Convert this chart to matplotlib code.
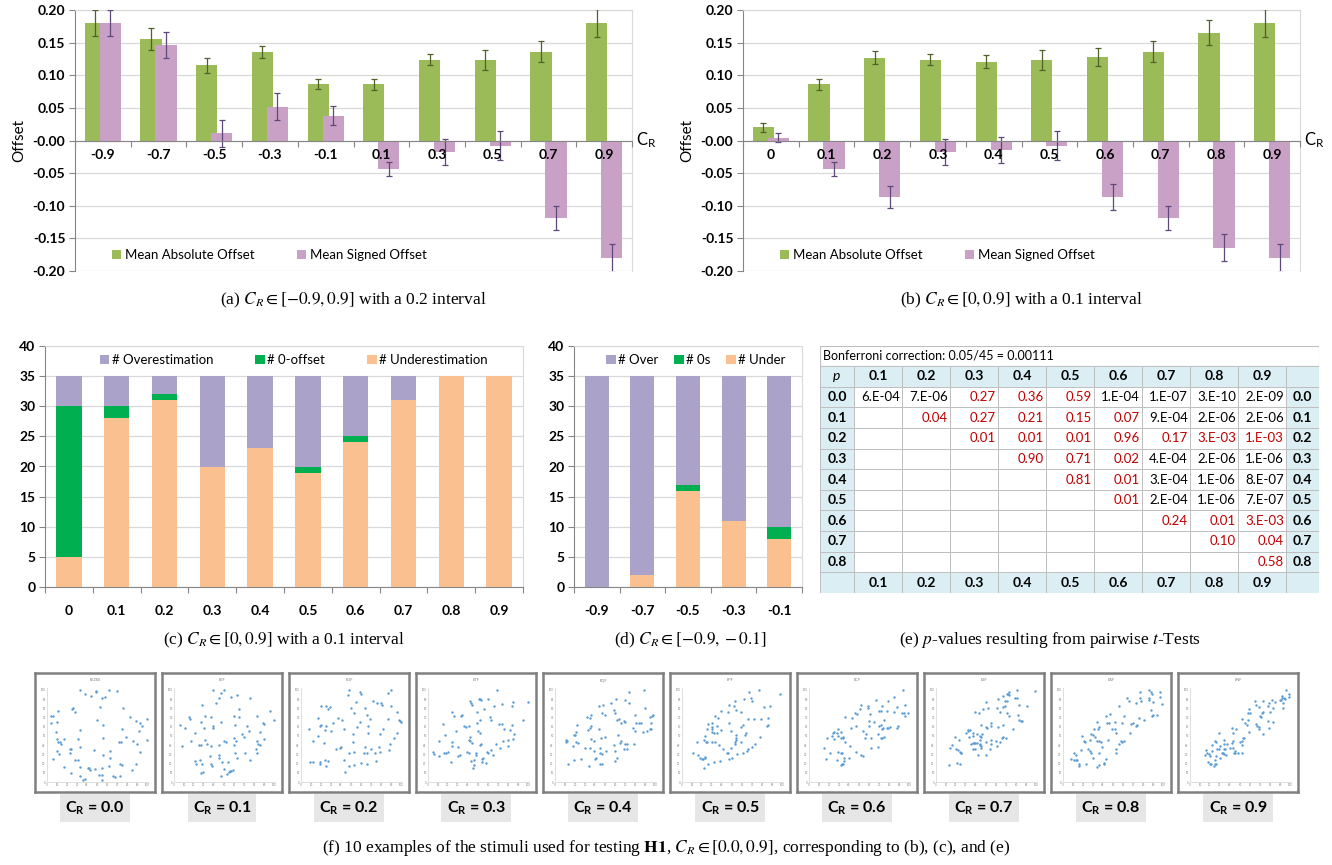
import matplotlib
matplotlib.use("Agg")
import matplotlib.pyplot as plt
from matplotlib.patches import Patch, Rectangle
import numpy as np

plt.rcParams['font.family'] = ['Lato', 'DejaVu Sans']
plt.rcParams['mathtext.fontset'] = 'custom'
plt.rcParams['mathtext.rm'] = 'Lato'
plt.rcParams['mathtext.it'] = 'Lato:italic'
plt.rcParams['mathtext.bf'] = 'Lato:bold'

# ---- data: (a) and (b) offsets
CATS_A = ['-0.9', '-0.7', '-0.5', '-0.3', '-0.1', '0.1', '0.3', '0.5', '0.7', '0.9']
ABS_A = [0.180, 0.156, 0.115, 0.136, 0.087, 0.086, 0.124, 0.123, 0.136, 0.180]
ABS_A_ERR = [0.020, 0.017, 0.011, 0.009, 0.008, 0.008, 0.009, 0.015, 0.016, 0.022]
SGN_A = [0.180, 0.146, 0.011, 0.052, 0.038, -0.044, -0.018, -0.008, -0.119, -0.180]
SGN_A_ERR = [0.020, 0.020, 0.021, 0.021, 0.015, 0.011, 0.020, 0.022, 0.018, 0.022]

CATS_B = ['0', '0.1', '0.2', '0.3', '0.4', '0.5', '0.6', '0.7', '0.8', '0.9']
ABS_B = [0.020, 0.086, 0.127, 0.124, 0.121, 0.123, 0.128, 0.136, 0.165, 0.180]
ABS_B_ERR = [0.007, 0.008, 0.010, 0.009, 0.010, 0.015, 0.014, 0.016, 0.019, 0.022]
SGN_B = [0.004, -0.044, -0.086, -0.018, -0.015, -0.008, -0.087, -0.119, -0.164, -0.180]
SGN_B_ERR = [0.007, 0.011, 0.017, 0.020, 0.020, 0.022, 0.020, 0.018, 0.020, 0.022]

# ---- data: (c) and (d) counts
CATS_C = CATS_B
UNDER_C = [5, 28, 31, 20, 23, 19, 24, 31, 35, 35]
ZERO_C = [25, 2, 1, 0, 0, 1, 1, 0, 0, 0]
OVER_C = [5, 5, 3, 15, 12, 15, 10, 4, 0, 0]

CATS_D = ['-0.9', '-0.7', '-0.5', '-0.3', '-0.1']
UNDER_D = [0, 2, 16, 11, 8]
ZERO_D = [0, 0, 1, 0, 2]
OVER_D = [35, 33, 18, 24, 25]

# ---- data: (e) p-value table
BONF = 'Bonferroni correction: 0.05/45 = 0.00111'
TBL_COLS = ['0.1', '0.2', '0.3', '0.4', '0.5', '0.6', '0.7', '0.8', '0.9']
TBL_ROWS = ['0.0', '0.1', '0.2', '0.3', '0.4', '0.5', '0.6', '0.7', '0.8']
P_VALUES = [
    ['6.E-04', '7.E-06', '0.27', '0.36', '0.59', '1.E-04', '1.E-07', '3.E-10', '2.E-09'],
    ['', '0.04', '0.27', '0.21', '0.15', '0.07', '9.E-04', '2.E-06', '2.E-06'],
    ['', '', '0.01', '0.01', '0.01', '0.96', '0.17', '3.E-03', '1.E-03'],
    ['', '', '', '0.90', '0.71', '0.02', '4.E-04', '2.E-06', '1.E-06'],
    ['', '', '', '', '0.81', '0.01', '3.E-04', '1.E-06', '8.E-07'],
    ['', '', '', '', '', '0.01', '2.E-04', '1.E-06', '7.E-07'],
    ['', '', '', '', '', '', '0.24', '0.01', '3.E-03'],
    ['', '', '', '', '', '', '', '0.10', '0.04'],
    ['', '', '', '', '', '', '', '', '0.58'],
]

# ---- data: (f) stimuli thumbnails (x, y)
STIM_00 = [(33,100),(38,95),(44,93),(49,98),(49,99),(55,91),(58,92),(62,100),(70,99),(76,80),(25,79),(26,80),(28,76),(11,77),(4,72),(6,72),(4,64),(10,65),(53,81),(50,67),(56,62),(83,71),(89,66),(93,64),(95,61),(100,68),(75,57),(92,55),(33,56),(9,54),(10,47),(17,47),(31,47),(56,48),(79,49),(11,43),(13,43),(14,41),(33,38),(72,43),(74,43),(86,44),(90,41),(100,46),(23,36),(24,36),(47,35),(63,34),(10,34),(23,31),(12,30),(56,29),(63,26),(93,33),(6,25),(28,24),(31,24),(17,16),(33,16),(41,15),(42,15),(43,13),(48,14),(55,15),(62,17),(73,20),(75,18),(89,19),(85,13),(24,10),(33,6),(36,2),(38,3),(52,8),(55,8),(55,2),(66,7),(68,5),(73,7)]
STIM_01 = [(39,100),(47,97),(50,100),(45,91),(42,86),(57,92),(63,94),(76,91),(28,84),(65,79),(96,77),(6,62),(11,59),(15,71),(16,68),(31,72),(37,71),(60,72),(65,71),(83,72),(100,67),(27,65),(30,59),(39,61),(39,59),(47,65),(61,62),(73,61),(90,63),(89,64),(21,53),(68,52),(70,49),(75,55),(86,54),(60,48),(31,46),(17,45),(62,45),(90,47),(83,44),(84,41),(86,40),(8,39),(25,40),(27,40),(33,41),(37,39),(45,40),(50,44),(52,43),(60,40),(82,36),(83,31),(61,32),(71,32),(36,28),(45,29),(45,26),(63,26),(76,24),(21,23),(22,19),(26,24),(28,20),(37,19),(38,17),(48,22),(54,22),(50,14),(56,12),(57,12),(59,13),(55,11),(29,11),(27,10),(53,9),(47,6)]
STIM_02 = [(48,100),(47,94),(59,98),(60,95),(90,100),(87,97),(55,87),(72,88),(76,86),(80,86),(81,84),(20,83),(25,82),(27,79),(29,81),(50,80),(64,80),(90,82),(96,76),(53,75),(66,73),(17,69),(37,69),(41,67),(69,68),(87,68),(98,67),(99,66),(100,65),(32,64),(20,62),(19,61),(25,61),(59,65),(56,60),(67,61),(8,57),(24,56),(30,55),(43,57),(82,58),(17,50),(52,52),(67,53),(79,52),(96,53),(12,45),(93,48),(23,42),(52,43),(89,41),(35,36),(39,37),(40,38),(64,38),(70,36),(78,38),(88,35),(48,31),(53,33),(63,32),(66,31),(74,31),(79,33),(9,22),(12,22),(19,22),(19,20),(24,24),(27,23),(25,17),(43,24),(48,17),(53,18),(60,21),(66,19),(75,23),(44,11)]
STIM_03 = [(69,100),(42,88),(43,86),(44,84),(51,90),(52,90),(53,89),(60,90),(74,85),(85,87),(84,82),(100,87),(56,79),(49,76),(24,76),(26,72),(33,72),(34,73),(66,83),(62,71),(63,67),(52,67),(49,64),(15,63),(71,63),(74,63),(36,61),(38,60),(41,61),(76,58),(84,62),(95,67),(82,56),(28,55),(50,55),(52,53),(17,51),(86,52),(42,49),(41,46),(42,45),(44,42),(75,45),(80,46),(85,47),(11,45),(24,39),(24,43),(30,38),(52,40),(53,41),(68,41),(72,37),(80,39),(39,33),(41,32),(48,32),(59,33),(60,32),(63,35),(5,33),(6,30),(11,28),(16,32),(18,32),(20,33),(30,28),(32,29),(48,29),(65,29),(54,25),(55,26),(43,23),(46,24),(23,22),(54,22),(58,21),(46,18),(45,15)]
STIM_04 = [(89,100),(74,98),(61,90),(70,89),(74,86),(56,86),(48,84),(44,82),(90,80),(59,78),(60,75),(47,75),(50,73),(80,73),(36,73),(32,71),(35,69),(98,73),(97,72),(95,71),(64,68),(62,67),(69,66),(70,65),(66,64),(96,64),(81,64),(84,64),(86,64),(22,62),(36,61),(35,59),(78,59),(95,58),(96,57),(44,57),(33,56),(80,55),(88,54),(92,55),(21,54),(19,51),(20,51),(63,51),(50,49),(46,48),(11,46),(12,45),(36,47),(39,45),(21,43),(23,42),(11,43),(66,45),(65,42),(59,40),(70,41),(72,41),(79,41),(18,39),(30,37),(35,37),(45,37),(69,36),(72,36),(39,34),(45,32),(47,30),(51,34),(60,34),(26,25),(41,26),(40,25),(19,24),(62,26),(60,23),(45,20),(47,20),(13,19),(34,17)]
STIM_05 = [(77,100),(67,98),(98,96),(62,90),(69,91),(70,88),(53,88),(47,84),(52,83),(88,83),(82,81),(54,78),(59,76),(39,77),(46,76),(33,72),(36,69),(72,68),(79,68),(66,68),(47,64),(26,63),(30,64),(30,60),(30,57),(25,57),(35,61),(39,56),(86,69),(86,62),(85,61),(61,62),(59,60),(49,55),(64,53),(63,51),(78,49),(23,50),(30,54),(32,53),(54,51),(54,48),(54,46),(22,46),(35,53),(15,43),(24,43),(25,43),(30,43),(33,43),(37,40),(53,43),(53,41),(59,43),(73,41),(70,38),(41,36),(49,37),(66,36),(65,34),(45,32),(46,31),(61,32),(55,30),(11,31),(16,29),(18,26),(20,25),(21,25),(23,27),(23,26),(26,19),(32,22),(38,23),(47,25),(50,26),(22,15)]
STIM_06 = [(94,100),(85,92),(67,89),(79,88),(96,84),(52,84),(59,82),(59,80),(73,82),(88,81),(51,79),(46,75),(48,74),(61,74),(70,77),(72,77),(78,77),(85,76),(99,75),(93,75),(95,75),(96,72),(36,70),(43,69),(65,65),(60,66),(75,67),(89,61),(88,59),(47,61),(42,59),(60,61),(70,61),(72,62),(73,58),(74,59),(78,59),(79,59),(81,60),(54,55),(29,57),(28,53),(25,54),(24,53),(32,54),(57,52),(69,52),(23,50),(25,47),(18,48),(29,50),(32,48),(34,49),(34,48),(56,48),(62,48),(72,48),(73,48),(75,49),(36,43),(15,37),(41,39),(62,37),(69,38),(21,32),(29,33),(32,31),(33,32),(28,24),(35,26),(35,23),(34,20),(33,19),(32,18),(40,26),(47,33),(52,29),(54,28),(17,25)]
STIM_07 = [(81,100),(73,98),(72,96),(71,95),(73,94),(99,99),(67,93),(79,91),(81,91),(62,90),(69,88),(71,88),(50,87),(83,84),(91,83),(69,82),(67,81),(61,80),(52,80),(47,79),(39,76),(64,76),(43,75),(71,75),(73,72),(82,73),(83,67),(85,66),(86,66),(55,64),(55,61),(45,62),(62,60),(67,62),(50,60),(77,58),(51,59),(32,56),(32,55),(34,56),(30,53),(37,53),(41,52),(46,52),(19,49),(33,49),(37,50),(44,50),(45,49),(23,46),(44,46),(55,46),(60,45),(66,48),(67,49),(70,48),(37,42),(38,42),(39,42),(35,41),(16,40),(41,42),(44,41),(44,40),(45,39),(50,43),(55,41),(64,43),(37,36),(39,36),(45,37),(14,37),(20,36),(22,35),(24,33),(25,32),(25,31),(61,39),(54,36),(42,29),(50,29),(21,21),(24,20),(13,18)]
STIM_08 = [(86,100),(77,98),(88,98),(97,98),(89,95),(86,91),(86,89),(77,91),(97,92),(64,91),(66,88),(78,88),(73,86),(90,87),(99,85),(56,82),(88,78),(89,72),(90,73),(94,73),(47,74),(43,72),(61,72),(76,69),(81,67),(52,65),(34,65),(44,64),(46,64),(59,64),(68,63),(70,64),(74,62),(73,61),(49,58),(36,60),(35,58),(31,58),(52,58),(53,53),(28,52),(30,51),(32,49),(19,50),(67,53),(27,46),(45,46),(56,41),(58,45),(59,43),(61,44),(34,44),(36,44),(38,43),(21,44),(22,43),(39,38),(18,35),(25,36),(27,34),(53,36),(53,32),(28,31),(36,31),(11,32),(13,29),(30,26),(8,25),(11,24),(13,24),(14,24),(43,25),(16,20),(16,17),(23,20),(41,21),(41,20),(36,18),(34,16)]
STIM_09 = [(96,100),(99,95),(99,92),(92,93),(92,91),(94,91),(95,90),(91,89),(90,89),(93,86),(85,87),(82,89),(65,88),(73,88),(79,86),(66,84),(78,82),(69,81),(93,80),(83,80),(80,76),(72,75),(59,79),(60,75),(58,75),(70,72),(71,70),(73,76),(58,67),(52,68),(78,66),(83,65),(66,63),(67,61),(69,60),(55,64),(57,62),(69,58),(79,59),(42,59),(46,57),(43,53),(59,54),(29,53),(73,52),(53,48),(54,48),(34,46),(25,45),(26,43),(43,44),(42,42),(50,43),(52,44),(22,40),(34,41),(30,39),(37,41),(40,37),(52,40),(27,36),(29,36),(34,36),(35,36),(43,37),(45,34),(16,35),(17,31),(15,29),(19,30),(22,34),(32,32),(36,29),(33,31),(34,30),(44,32),(45,32),(48,32),(52,32),(26,28),(30,26),(20,28),(25,24),(18,22),(20,20),(21,19),(25,19),(26,20),(24,17)]
STIMULI = [STIM_00, STIM_01, STIM_02, STIM_03, STIM_04, STIM_05, STIM_06, STIM_07, STIM_08, STIM_09]
STIM_TITLES = ['EEZEE', 'EEF', 'EDF', 'ETF', 'EQF', 'EPF', 'ECF', 'ESF', 'EAF', 'ENF']
STIM_CR = ['0.0', '0.1', '0.2', '0.3', '0.4', '0.5', '0.6', '0.7', '0.8', '0.9']

# ---- colours
GREEN = '#9bbb59'
GREEN_ERR = '#4f6228'
PINK = '#c9a0c6'
PINK_ERR = '#5f497a'
OVER = '#aaa2c8'
ZERO = '#00b050'
UNDER = '#fac090'
GRID = '#d9d9d9'
AXIS = '#868686'
BLUE_HDR = '#daeef3'
RED = '#c00000'
SERIF = ['Liberation Serif', 'DejaVu Serif']

W, H = 1332, 865
fig = plt.figure(figsize=(W / 100, H / 100), dpi=100)


def box(l, t, r, b):
    # pixel box -> figure fraction
    return [l / W, 1 - b / H, (r - l) / W, (b - t) / H]


def caption(x, y, s, size=12.5):
    fig.text(x / W, 1 - y / H, s, ha='center', va='center', fontsize=size,
             family=SERIF, math_fontfamily='stix')


def offset_panel(rect, cats, absm, abse, sgnm, sgne):
    ax = fig.add_axes(box(*rect))
    x = np.arange(len(cats))
    ax.bar(x - 0.135, absm, 0.38, color=GREEN, zorder=2)
    ax.errorbar(x - 0.135, absm, yerr=abse, fmt='none', ecolor=GREEN_ERR,
                elinewidth=0.9, capsize=2.5, capthick=0.9, zorder=3)
    ax.bar(x + 0.135, sgnm, 0.38, color=PINK, zorder=4)
    ax.errorbar(x + 0.135, sgnm, yerr=sgne, fmt='none', ecolor=PINK_ERR,
                elinewidth=0.9, capsize=2.5, capthick=0.9, zorder=5)
    ax.set_xlim(-0.5, len(cats) - 0.5)
    ax.set_ylim(-0.2, 0.2)
    yt = np.arange(-0.2, 0.2001, 0.05)
    ax.set_yticks(yt)
    ax.set_yticklabels(['%.2f' % v for v in yt], fontweight='bold', fontsize=10)
    ax.grid(axis='y', color=GRID, lw=0.9, zorder=0)
    ax.set_axisbelow(True)
    ax.spines['bottom'].set_position(('data', 0))
    ax.spines['bottom'].set_zorder(6)
    for s in ['bottom', 'left']:
        ax.spines[s].set_color(AXIS)
    for s in ['top', 'right']:
        ax.spines[s].set_color(GRID)
    ax.set_xticks(np.arange(-0.5, len(cats)))
    ax.set_xticklabels([])
    ax.set_xticks(x, minor=True)
    ax.set_xticklabels(cats, minor=True, fontweight='bold', fontsize=10)
    ax.tick_params(axis='x', which='major', length=4, color=AXIS)
    ax.tick_params(axis='x', which='minor', length=0, pad=6)
    ax.tick_params(axis='y', length=4, color=AXIS, pad=3)
    # category labels sit on top of the bars, as in the Excel chart
    ax.xaxis.set_zorder(7)
    ax.set_ylabel('Offset', fontsize=11)
    ax.yaxis.set_label_coords(-0.088, 0.5)
    ax.text(1.008, 0.5, r'$\mathrm{C_R}$', transform=ax.transAxes, fontsize=12,
            va='center', ha='left')
    ax.legend([Patch(facecolor=GREEN), Patch(facecolor=PINK)],
              ['Mean Absolute Offset', 'Mean Signed Offset'],
              loc='center left', bbox_to_anchor=(0.045, 0.062), ncol=2,
              frameon=False, handlelength=0.7, handleheight=0.7,
              handletextpad=0.3, columnspacing=3.2, fontsize=9.5)
    return ax


def count_panel(rect, cats, under, zero, over, names, lx, colsp):
    ax = fig.add_axes(box(*rect))
    x = np.arange(len(cats))
    ax.bar(x, under, 0.53, color=UNDER, zorder=2)
    ax.bar(x, zero, 0.53, bottom=under, color=ZERO, zorder=2)
    ax.bar(x, over, 0.53, bottom=np.add(under, zero), color=OVER, zorder=2)
    ax.set_xlim(-0.5, len(cats) - 0.5)
    ax.set_ylim(0, 40)
    ax.set_yticks(np.arange(0, 41, 5))
    ax.set_yticklabels([str(v) for v in range(0, 41, 5)], fontweight='bold', fontsize=10)
    ax.grid(axis='y', color=GRID, lw=0.9, zorder=0)
    ax.set_axisbelow(True)
    for s in ['bottom', 'left']:
        ax.spines[s].set_color(AXIS)
    for s in ['top', 'right']:
        ax.spines[s].set_color(GRID)
    ax.set_xticks(np.arange(-0.5, len(cats)))
    ax.set_xticklabels([])
    ax.set_xticks(x, minor=True)
    ax.set_xticklabels(cats, minor=True, fontweight='bold', fontsize=10)
    ax.tick_params(axis='x', which='major', length=4, color=AXIS)
    ax.tick_params(axis='x', which='minor', length=0, pad=13)
    ax.tick_params(axis='y', length=4, color=AXIS, pad=3)
    ax.legend([Patch(facecolor=OVER), Patch(facecolor=ZERO), Patch(facecolor=UNDER)],
              names, loc='center left', bbox_to_anchor=(lx, 0.94), ncol=3,
              frameon=False, handlelength=0.7, handleheight=0.7,
              handletextpad=0.2, columnspacing=colsp, fontsize=9.5)
    return ax


# (a) and (b)
offset_panel((75, 10, 632, 271), CATS_A, ABS_A, ABS_A_ERR, SGN_A, SGN_A_ERR)
caption(353, 300, r'(a) $C_R \in [-0.9, 0.9]$ with a 0.2 interval')
offset_panel((743, 10, 1300, 271), CATS_B, ABS_B, ABS_B_ERR, SGN_B, SGN_B_ERR)
caption(1021, 300, r'(b) $C_R \in [0, 0.9]$ with a 0.1 interval')

# (c) and (d)
count_panel((45, 346, 523, 587), CATS_C, UNDER_C, ZERO_C, OVER_C,
            ['# Overestimation', '# 0-offset', '# Underestimation'], 0.09, 3.2)
caption(284, 640, r'(c) $C_R \in [0, 0.9]$ with a 0.1 interval')
count_panel((574, 346, 802, 587), CATS_D, UNDER_D, ZERO_D, OVER_D,
            ['# Over', '# 0s', '# Under'], 0.09, 1.2)
caption(690, 640, r'(d) $C_R \in [-0.9, -0.1]$')

# (e) p-value table
tl, tt, tr, tb = 820, 346, 1319, 593
axt = fig.add_axes(box(tl, tt, tr, tb))
tw, th = tr - tl, tb - tt
axt.set_xlim(0, tw)
axt.set_ylim(th, 0)
axt.axis('off')
cx = [0, 34] + [34 + 48 * k for k in range(1, 10)] + [tw]
bonf_h = 20
rh = (th - bonf_h) / 11.0
ry = [bonf_h + rh * k for k in range(12)]
axt.add_patch(Rectangle((0, 0), tw, bonf_h, facecolor='white', edgecolor='#bfbfbf', lw=0.8))
axt.text(3, bonf_h / 2, BONF, ha='left', va='center', fontsize=9)
for r in range(11):
    for c in range(11):
        hdr = r in (0, 10) or c in (0, 10)
        axt.add_patch(Rectangle((cx[c], ry[r]), cx[c + 1] - cx[c], rh,
                                facecolor=BLUE_HDR if hdr else 'white',
                                edgecolor='#bfbfbf', lw=0.7))
ymid = [(ry[k] + ry[k + 1]) / 2 for k in range(11)]
axt.text((cx[0] + cx[1]) / 2, ymid[0], 'p', style='italic', ha='center', va='center', fontsize=10)
for j, lab in enumerate(TBL_COLS):
    xm = (cx[j + 1] + cx[j + 2]) / 2
    axt.text(xm, ymid[0], lab, ha='center', va='center', fontsize=10, fontweight='bold')
    axt.text(xm, ymid[10], lab, ha='center', va='center', fontsize=10, fontweight='bold')
for i, lab in enumerate(TBL_ROWS):
    axt.text((cx[0] + cx[1]) / 2, ymid[i + 1], lab, ha='center', va='center', fontsize=10, fontweight='bold')
    axt.text((cx[10] + cx[11]) / 2, ymid[i + 1], lab, ha='center', va='center', fontsize=10, fontweight='bold')
    for j, val in enumerate(P_VALUES[i]):
        if not val:
            continue
        col = RED if float(val) >= 1e-3 else 'black'
        axt.text(cx[j + 2] - 2, ymid[i + 1], val, ha='right', va='center', fontsize=9.5, color=col)
caption(1050, 640, r'(e) $p$-values resulting from pairwise $t$-Tests')

# (f) stimuli thumbnails
for k, pts in enumerate(STIMULI):
    x0 = 35 + 127 * k
    frame = fig.add_axes(box(x0, 673, x0 + 120, 792))
    frame.set_xticks([])
    frame.set_yticks([])
    for s in frame.spines.values():
        s.set_color('#808080')
        s.set_linewidth(1.8)
    frame.text(0.5, 0.94, STIM_TITLES[k], transform=frame.transAxes, ha='center',
               va='center', fontsize=2.8, color='#7f7f7f')
    ax = fig.add_axes(box(x0 + 12, 688, x0 + 113, 782))
    xs, ys = zip(*pts)
    ax.scatter(xs, ys, s=3, color='#5b9bd5', linewidths=0, zorder=3)
    ax.set_xlim(0, 101)
    ax.set_ylim(0, 102)
    ax.set_xticks(range(0, 101, 10))
    ax.set_yticks(range(0, 101, 10))
    ax.tick_params(length=0, pad=1, labelsize=2, labelcolor='#7f7f7f')
    for s in ['top', 'right']:
        ax.spines[s].set_visible(False)
    for s in ['bottom', 'left']:
        ax.spines[s].set_color(GRID)
        ax.spines[s].set_linewidth(0.6)
    fig.text((x0 + 60) / W, 1 - 808 / H, r'$\mathbf{C_R}$ = ' + STIM_CR[k],
             ha='center', va='center', fontsize=11.5, fontweight='bold',
             bbox=dict(boxstyle='square,pad=0.32', facecolor='#e7e6e6', edgecolor='none'))

caption(666, 848, r'(f) 10 examples of the stimuli used for testing $\mathbf{H1}$, '
                  r'$C_R \in [0.0, 0.9]$, corresponding to (b), (c), and (e)')

fig.savefig('out.png', dpi=100)
